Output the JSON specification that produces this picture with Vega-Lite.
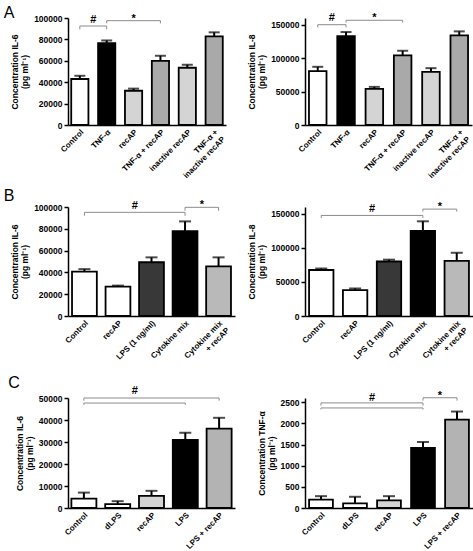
{
  "$schema": "https://vega.github.io/schema/vega-lite/v6.json",
  "padding": {"left": 3, "top": 5, "right": 0, "bottom": 0},
  "background": "white",
  "datasets": {
    "bars": [
      {"panel": "A1", "condition": "Control", "class": "control", "mean": 43000, "upper": 46000},
      {"panel": "A1", "condition": "TNF-α", "class": "stimulus", "mean": 76500, "upper": 79000},
      {"panel": "A1", "condition": "recAP", "class": "recAP", "mean": 32000, "upper": 34000},
      {"panel": "A1", "condition": "TNF-α + recAP", "class": "stimulus + recAP", "mean": 60000, "upper": 64700},
      {"panel": "A1", "condition": "inactive recAP", "class": "inactive recAP", "mean": 53500, "upper": 56300},
      {"panel": "A1", "condition": "TNF-α + inactive recAP", "class": "stimulus + inactive recAP", "mean": 82800, "upper": 86600},
      {"panel": "A2", "condition": "Control", "class": "control", "mean": 80500, "upper": 87000},
      {"panel": "A2", "condition": "TNF-α", "class": "stimulus", "mean": 133000, "upper": 139000},
      {"panel": "A2", "condition": "recAP", "class": "recAP", "mean": 54000, "upper": 57000},
      {"panel": "A2", "condition": "TNF-α + recAP", "class": "stimulus + recAP", "mean": 104000, "upper": 111000},
      {"panel": "A2", "condition": "inactive recAP", "class": "inactive recAP", "mean": 79500, "upper": 85000},
      {"panel": "A2", "condition": "TNF-α + inactive recAP", "class": "stimulus + inactive recAP", "mean": 134000, "upper": 140000},
      {"panel": "B1", "condition": "Control", "class": "control", "mean": 40800, "upper": 43000},
      {"panel": "B1", "condition": "recAP", "class": "recAP", "mean": 27000, "upper": 27900},
      {"panel": "B1", "condition": "LPS (1 ng/ml)", "class": "LPS", "mean": 49300, "upper": 53800},
      {"panel": "B1", "condition": "Cytokine mix", "class": "stimulus", "mean": 77800, "upper": 86800},
      {"panel": "B1", "condition": "Cytokine mix + recAP", "class": "stimulus + recAP", "mean": 45600, "upper": 53800},
      {"panel": "B2", "condition": "Control", "class": "control", "mean": 67500, "upper": 69700},
      {"panel": "B2", "condition": "recAP", "class": "recAP", "mean": 38100, "upper": 40400},
      {"panel": "B2", "condition": "LPS (1 ng/ml)", "class": "LPS", "mean": 80000, "upper": 82700},
      {"panel": "B2", "condition": "Cytokine mix", "class": "stimulus", "mean": 125000, "upper": 139000},
      {"panel": "B2", "condition": "Cytokine mix + recAP", "class": "stimulus + recAP", "mean": 81000, "upper": 92800},
      {"panel": "C1", "condition": "Control", "class": "control", "mean": 4300, "upper": 7000},
      {"panel": "C1", "condition": "dLPS", "class": "dLPS", "mean": 1800, "upper": 3100},
      {"panel": "C1", "condition": "recAP", "class": "recAP", "mean": 5500, "upper": 7800},
      {"panel": "C1", "condition": "LPS", "class": "stimulus", "mean": 30900, "upper": 34200},
      {"panel": "C1", "condition": "LPS + recAP", "class": "stimulus + recAP", "mean": 36100, "upper": 41000},
      {"panel": "C2", "condition": "Control", "class": "control", "mean": 200, "upper": 280},
      {"panel": "C2", "condition": "dLPS", "class": "dLPS", "mean": 110, "upper": 265},
      {"panel": "C2", "condition": "recAP", "class": "recAP", "mean": 180, "upper": 280},
      {"panel": "C2", "condition": "LPS", "class": "stimulus", "mean": 1420, "upper": 1560},
      {"panel": "C2", "condition": "LPS + recAP", "class": "stimulus + recAP", "mean": 2090, "upper": 2280}
    ],
    "brackets": [
      {"panel": "A1", "condition": "Control", "to": "TNF-α", "level": 92500, "tip": 89400},
      {"panel": "A1", "condition": "TNF-α", "to": "TNF-α + recAP", "level": 97500, "tip": 95000},
      {"panel": "A2", "condition": "Control", "to": "TNF-α", "level": 150000, "tip": 146000},
      {"panel": "A2", "condition": "TNF-α", "to": "TNF-α + recAP", "level": 156600, "tip": 153200},
      {"panel": "B1", "condition": "Control", "to": "Cytokine mix", "level": 95100, "tip": 92000},
      {"panel": "B1", "condition": "Cytokine mix", "to": "Cytokine mix + recAP", "level": 99700, "tip": 96600},
      {"panel": "B2", "condition": "Control", "to": "Cytokine mix", "level": 147600, "tip": 144000},
      {"panel": "B2", "condition": "Cytokine mix", "to": "Cytokine mix + recAP", "level": 156900, "tip": 153200},
      {"panel": "C1", "condition": "Control", "to": "LPS + recAP", "level": 50000, "tip": 48800},
      {"panel": "C1", "condition": "Control", "to": "LPS", "level": 47700, "tip": 46900},
      {"panel": "C2", "condition": "Control", "to": "LPS", "level": 2484, "tip": 2420},
      {"panel": "C2", "condition": "Control", "to": "LPS", "level": 2365, "tip": 2329},
      {"panel": "C2", "condition": "LPS", "to": "LPS + recAP", "level": 2606, "tip": 2539}
    ],
    "signif": [
      {"panel": "A1", "condition": "Control", "between": true, "symbol": "#", "label_y": 95000},
      {"panel": "A1", "condition": "recAP", "between": false, "symbol": "*", "label_y": 96300},
      {"panel": "A2", "condition": "Control", "between": true, "symbol": "#", "label_y": 155600},
      {"panel": "A2", "condition": "recAP", "between": false, "symbol": "*", "label_y": 155000},
      {"panel": "B1", "condition": "recAP", "between": true, "symbol": "#", "label_y": 98200},
      {"panel": "B1", "condition": "Cytokine mix", "between": true, "symbol": "*", "label_y": 99400},
      {"panel": "B2", "condition": "recAP", "between": true, "symbol": "#", "label_y": 152400},
      {"panel": "B2", "condition": "Cytokine mix", "between": true, "symbol": "*", "label_y": 155000},
      {"panel": "C1", "condition": "dLPS", "between": true, "symbol": "#", "label_y": 51800},
      {"panel": "C2", "condition": "dLPS", "between": true, "symbol": "#", "label_y": 2522},
      {"panel": "C2", "condition": "LPS", "between": true, "symbol": "*", "label_y": 2567}
    ]
  },
  "columns": 2,
  "bounds": "flush",
  "spacing": {"row": 82, "column": 70},
  "resolve": {"scale": {"color": "independent"}},
  "concat": [
    {
      "title": {"text": "A", "offset": -8.5, "dx": -7},
      "width": 158, "height": 107,
      "encoding": {"x": {"field": "condition", "type": "nominal", "scale": {"domain": ["Control", "TNF-α", "recAP", "TNF-α + recAP", "inactive recAP", "TNF-α + inactive recAP"], "paddingInner": 0.36, "paddingOuter": 0.12}, "axis": {"title": null, "labelExpr": "datum.label == 'TNF-α + inactive recAP' ? ['TNF-α +', 'inactive recAP'] : datum.label"}}},
      "layer": [
        {"data": {"name": "bars"}, "transform": [{"filter": "datum.panel == 'A1'"}], "mark": {"type": "bar", "stroke": "black", "strokeWidth": 1.8},
         "encoding": {"y": {"field": "mean", "type": "quantitative", "scale": {"domain": [0, 100000]}, "axis": {"tickCount": 5, "format": "d", "labelOverlap": false, "title": ["Concentration IL-6", "(pg ml⁻¹)"]}},
                      "color": {"field": "class", "type": "nominal", "scale": {"domain": ["control", "stimulus", "recAP", "stimulus + recAP", "inactive recAP", "stimulus + inactive recAP"], "range": ["#ffffff", "#000000", "#d4d4d4", "#a9a9a9", "#d4d4d4", "#a9a9a9"]}, "legend": null}}},
        {"data": {"name": "bars"}, "transform": [{"filter": "datum.panel == 'A1'"}], "mark": {"type": "rule", "color": "black", "strokeWidth": 2}, "encoding": {"y": {"field": "mean", "type": "quantitative"}, "y2": {"field": "upper"}}},
        {"data": {"name": "bars"}, "transform": [{"filter": "datum.panel == 'A1'"}], "mark": {"type": "tick", "orient": "horizontal", "size": 11, "thickness": 2, "color": "black"}, "encoding": {"y": {"field": "upper", "type": "quantitative"}}},
        {"data": {"name": "brackets"}, "transform": [{"filter": "datum.panel == 'A1'"}], "mark": {"type": "rule", "color": "#8c8c8c", "strokeWidth": 1}, "encoding": {"x2": {"field": "to"}, "y": {"field": "level", "type": "quantitative"}}},
        {"data": {"name": "brackets"}, "transform": [{"filter": "datum.panel == 'A1'"}, {"fold": ["condition", "to"], "as": ["end", "condition"]}], "mark": {"type": "rule", "color": "#8c8c8c", "strokeWidth": 1}, "encoding": {"y": {"field": "level", "type": "quantitative"}, "y2": {"field": "tip"}}},
        {"data": {"name": "signif"}, "transform": [{"filter": "datum.panel == 'A1' && !datum.between"}], "mark": {"type": "text", "fontWeight": "bold", "fontSize": 11, "baseline": "alphabetic"}, "encoding": {"y": {"field": "label_y", "type": "quantitative"}, "text": {"field": "symbol"}}},
        {"data": {"name": "signif"}, "transform": [{"filter": "datum.panel == 'A1' && datum.between"}], "mark": {"type": "text", "fontWeight": "bold", "fontSize": 11, "baseline": "alphabetic", "dx": 13.4}, "encoding": {"y": {"field": "label_y", "type": "quantitative"}, "text": {"field": "symbol"}}}
      ]
    },
    {
      "width": 167, "height": 107,
      "encoding": {"x": {"field": "condition", "type": "nominal", "scale": {"domain": ["Control", "TNF-α", "recAP", "TNF-α + recAP", "inactive recAP", "TNF-α + inactive recAP"], "paddingInner": 0.38, "paddingOuter": 0.14}, "axis": {"title": null, "labelExpr": "datum.label == 'TNF-α + inactive recAP' ? ['TNF-α +', 'inactive recAP'] : datum.label"}}},
      "layer": [
        {"data": {"name": "bars"}, "transform": [{"filter": "datum.panel == 'A2'"}], "mark": {"type": "bar", "stroke": "black", "strokeWidth": 1.8},
         "encoding": {"y": {"field": "mean", "type": "quantitative", "scale": {"domain": [0, 150000]}, "axis": {"tickCount": 3, "format": "d", "labelOverlap": false, "title": ["Concentration IL-8", "(pg ml⁻¹)"]}},
                      "color": {"field": "class", "type": "nominal", "scale": {"domain": ["control", "stimulus", "recAP", "stimulus + recAP", "inactive recAP", "stimulus + inactive recAP"], "range": ["#ffffff", "#000000", "#d4d4d4", "#a9a9a9", "#d4d4d4", "#a9a9a9"]}, "legend": null}}},
        {"data": {"name": "bars"}, "transform": [{"filter": "datum.panel == 'A2'"}], "mark": {"type": "rule", "color": "black", "strokeWidth": 2}, "encoding": {"y": {"field": "mean", "type": "quantitative"}, "y2": {"field": "upper"}}},
        {"data": {"name": "bars"}, "transform": [{"filter": "datum.panel == 'A2'"}], "mark": {"type": "tick", "orient": "horizontal", "size": 11, "thickness": 2, "color": "black"}, "encoding": {"y": {"field": "upper", "type": "quantitative"}}},
        {"data": {"name": "brackets"}, "transform": [{"filter": "datum.panel == 'A2'"}], "mark": {"type": "rule", "color": "#8c8c8c", "strokeWidth": 1}, "encoding": {"x2": {"field": "to"}, "y": {"field": "level", "type": "quantitative"}}},
        {"data": {"name": "brackets"}, "transform": [{"filter": "datum.panel == 'A2'"}, {"fold": ["condition", "to"], "as": ["end", "condition"]}], "mark": {"type": "rule", "color": "#8c8c8c", "strokeWidth": 1}, "encoding": {"y": {"field": "level", "type": "quantitative"}, "y2": {"field": "tip"}}},
        {"data": {"name": "signif"}, "transform": [{"filter": "datum.panel == 'A2' && !datum.between"}], "mark": {"type": "text", "fontWeight": "bold", "fontSize": 11, "baseline": "alphabetic"}, "encoding": {"y": {"field": "label_y", "type": "quantitative"}, "text": {"field": "symbol"}}},
        {"data": {"name": "signif"}, "transform": [{"filter": "datum.panel == 'A2' && datum.between"}], "mark": {"type": "text", "fontWeight": "bold", "fontSize": 11, "baseline": "alphabetic", "dx": 14.2}, "encoding": {"y": {"field": "label_y", "type": "quantitative"}, "text": {"field": "symbol"}}}
      ]
    },
    {
      "title": {"text": "B", "offset": -5.5, "dx": -7},
      "width": 167, "height": 109,
      "encoding": {"x": {"field": "condition", "type": "nominal", "scale": {"domain": ["Control", "recAP", "LPS (1 ng/ml)", "Cytokine mix", "Cytokine mix + recAP"], "paddingInner": 0.26, "paddingOuter": 0.12}, "axis": {"title": null, "labelExpr": "datum.label == 'Cytokine mix + recAP' ? ['Cytokine mix', '+ recAP'] : datum.label"}}},
      "layer": [
        {"data": {"name": "bars"}, "transform": [{"filter": "datum.panel == 'B1'"}], "mark": {"type": "bar", "stroke": "black", "strokeWidth": 1.8},
         "encoding": {"y": {"field": "mean", "type": "quantitative", "scale": {"domain": [0, 100000]}, "axis": {"tickCount": 5, "format": "d", "labelOverlap": false, "title": ["Concentration IL-6", "(pg ml⁻¹)"]}},
                      "color": {"field": "class", "type": "nominal", "scale": {"domain": ["control", "recAP", "LPS", "stimulus", "stimulus + recAP"], "range": ["#ffffff", "#ffffff", "#383838", "#000000", "#b9b9b9"]}, "legend": null}}},
        {"data": {"name": "bars"}, "transform": [{"filter": "datum.panel == 'B1'"}], "mark": {"type": "rule", "color": "black", "strokeWidth": 2}, "encoding": {"y": {"field": "mean", "type": "quantitative"}, "y2": {"field": "upper"}}},
        {"data": {"name": "bars"}, "transform": [{"filter": "datum.panel == 'B1'"}], "mark": {"type": "tick", "orient": "horizontal", "size": 12, "thickness": 2, "color": "black"}, "encoding": {"y": {"field": "upper", "type": "quantitative"}}},
        {"data": {"name": "brackets"}, "transform": [{"filter": "datum.panel == 'B1'"}], "mark": {"type": "rule", "color": "#8c8c8c", "strokeWidth": 1}, "encoding": {"x2": {"field": "to"}, "y": {"field": "level", "type": "quantitative"}}},
        {"data": {"name": "brackets"}, "transform": [{"filter": "datum.panel == 'B1'"}, {"fold": ["condition", "to"], "as": ["end", "condition"]}], "mark": {"type": "rule", "color": "#8c8c8c", "strokeWidth": 1}, "encoding": {"y": {"field": "level", "type": "quantitative"}, "y2": {"field": "tip"}}},
        {"data": {"name": "signif"}, "transform": [{"filter": "datum.panel == 'B1' && !datum.between"}], "mark": {"type": "text", "fontWeight": "bold", "fontSize": 11, "baseline": "alphabetic"}, "encoding": {"y": {"field": "label_y", "type": "quantitative"}, "text": {"field": "symbol"}}},
        {"data": {"name": "signif"}, "transform": [{"filter": "datum.panel == 'B1' && datum.between"}], "mark": {"type": "text", "fontWeight": "bold", "fontSize": 11, "baseline": "alphabetic", "dx": 16.9}, "encoding": {"y": {"field": "label_y", "type": "quantitative"}, "text": {"field": "symbol"}}}
      ]
    },
    {
      "width": 168, "height": 109,
      "encoding": {"x": {"field": "condition", "type": "nominal", "scale": {"domain": ["Control", "recAP", "LPS (1 ng/ml)", "Cytokine mix", "Cytokine mix + recAP"], "paddingInner": 0.28, "paddingOuter": 0.12}, "axis": {"title": null, "labelExpr": "datum.label == 'Cytokine mix + recAP' ? ['Cytokine mix', '+ recAP'] : datum.label"}}},
      "layer": [
        {"data": {"name": "bars"}, "transform": [{"filter": "datum.panel == 'B2'"}], "mark": {"type": "bar", "stroke": "black", "strokeWidth": 1.8},
         "encoding": {"y": {"field": "mean", "type": "quantitative", "scale": {"domain": [0, 150000]}, "axis": {"tickCount": 3, "format": "d", "labelOverlap": false, "title": ["Concentration IL-8", "(pg ml⁻¹)"]}},
                      "color": {"field": "class", "type": "nominal", "scale": {"domain": ["control", "recAP", "LPS", "stimulus", "stimulus + recAP"], "range": ["#ffffff", "#ffffff", "#383838", "#000000", "#b9b9b9"]}, "legend": null}}},
        {"data": {"name": "bars"}, "transform": [{"filter": "datum.panel == 'B2'"}], "mark": {"type": "rule", "color": "black", "strokeWidth": 2}, "encoding": {"y": {"field": "mean", "type": "quantitative"}, "y2": {"field": "upper"}}},
        {"data": {"name": "bars"}, "transform": [{"filter": "datum.panel == 'B2'"}], "mark": {"type": "tick", "orient": "horizontal", "size": 12, "thickness": 2, "color": "black"}, "encoding": {"y": {"field": "upper", "type": "quantitative"}}},
        {"data": {"name": "brackets"}, "transform": [{"filter": "datum.panel == 'B2'"}], "mark": {"type": "rule", "color": "#8c8c8c", "strokeWidth": 1}, "encoding": {"x2": {"field": "to"}, "y": {"field": "level", "type": "quantitative"}}},
        {"data": {"name": "brackets"}, "transform": [{"filter": "datum.panel == 'B2'"}, {"fold": ["condition", "to"], "as": ["end", "condition"]}], "mark": {"type": "rule", "color": "#8c8c8c", "strokeWidth": 1}, "encoding": {"y": {"field": "level", "type": "quantitative"}, "y2": {"field": "tip"}}},
        {"data": {"name": "signif"}, "transform": [{"filter": "datum.panel == 'B2' && !datum.between"}], "mark": {"type": "text", "fontWeight": "bold", "fontSize": 11, "baseline": "alphabetic"}, "encoding": {"y": {"field": "label_y", "type": "quantitative"}, "text": {"field": "symbol"}}},
        {"data": {"name": "signif"}, "transform": [{"filter": "datum.panel == 'B2' && datum.between"}], "mark": {"type": "text", "fontWeight": "bold", "fontSize": 11, "baseline": "alphabetic", "dx": 17}, "encoding": {"y": {"field": "label_y", "type": "quantitative"}, "text": {"field": "symbol"}}}
      ]
    },
    {
      "title": {"text": "C", "offset": -6, "dx": -7},
      "width": 167, "height": 110,
      "encoding": {"x": {"field": "condition", "type": "nominal", "scale": {"domain": ["Control", "dLPS", "recAP", "LPS", "LPS + recAP"], "paddingInner": 0.26, "paddingOuter": 0.1}, "axis": {"title": null}}},
      "layer": [
        {"data": {"name": "bars"}, "transform": [{"filter": "datum.panel == 'C1'"}], "mark": {"type": "bar", "stroke": "black", "strokeWidth": 1.8},
         "encoding": {"y": {"field": "mean", "type": "quantitative", "scale": {"domain": [0, 50000]}, "axis": {"tickCount": 5, "format": "d", "labelOverlap": false, "title": ["Concentration IL-6", "(pg ml⁻¹)"]}},
                      "color": {"field": "class", "type": "nominal", "scale": {"domain": ["control", "dLPS", "recAP", "stimulus", "stimulus + recAP"], "range": ["#ffffff", "#ffffff", "#d4d4d4", "#000000", "#b3b3b3"]}, "legend": null}}},
        {"data": {"name": "bars"}, "transform": [{"filter": "datum.panel == 'C1'"}], "mark": {"type": "rule", "color": "black", "strokeWidth": 2}, "encoding": {"y": {"field": "mean", "type": "quantitative"}, "y2": {"field": "upper"}}},
        {"data": {"name": "bars"}, "transform": [{"filter": "datum.panel == 'C1'"}], "mark": {"type": "tick", "orient": "horizontal", "size": 12, "thickness": 2, "color": "black"}, "encoding": {"y": {"field": "upper", "type": "quantitative"}}},
        {"data": {"name": "brackets"}, "transform": [{"filter": "datum.panel == 'C1'"}], "mark": {"type": "rule", "color": "#8c8c8c", "strokeWidth": 1}, "encoding": {"x2": {"field": "to"}, "y": {"field": "level", "type": "quantitative"}}},
        {"data": {"name": "brackets"}, "transform": [{"filter": "datum.panel == 'C1'"}, {"fold": ["condition", "to"], "as": ["end", "condition"]}], "mark": {"type": "rule", "color": "#8c8c8c", "strokeWidth": 1}, "encoding": {"y": {"field": "level", "type": "quantitative"}, "y2": {"field": "tip"}}},
        {"data": {"name": "signif"}, "transform": [{"filter": "datum.panel == 'C1' && !datum.between"}], "mark": {"type": "text", "fontWeight": "bold", "fontSize": 11, "baseline": "alphabetic"}, "encoding": {"y": {"field": "label_y", "type": "quantitative"}, "text": {"field": "symbol"}}},
        {"data": {"name": "signif"}, "transform": [{"filter": "datum.panel == 'C1' && datum.between"}], "mark": {"type": "text", "fontWeight": "bold", "fontSize": 11, "baseline": "alphabetic", "dx": 17}, "encoding": {"y": {"field": "label_y", "type": "quantitative"}, "text": {"field": "symbol"}}}
      ]
    },
    {
      "width": 168, "height": 110,
      "encoding": {"x": {"field": "condition", "type": "nominal", "scale": {"domain": ["Control", "dLPS", "recAP", "LPS", "LPS + recAP"], "paddingInner": 0.3, "paddingOuter": 0.12}, "axis": {"title": null}}},
      "layer": [
        {"data": {"name": "bars"}, "transform": [{"filter": "datum.panel == 'C2'"}], "mark": {"type": "bar", "stroke": "black", "strokeWidth": 1.8},
         "encoding": {"y": {"field": "mean", "type": "quantitative", "scale": {"domain": [0, 2500]}, "axis": {"tickCount": 5, "format": "d", "labelOverlap": false, "title": ["Concentration TNF-α", "(pg ml⁻¹)"]}},
                      "color": {"field": "class", "type": "nominal", "scale": {"domain": ["control", "dLPS", "recAP", "stimulus", "stimulus + recAP"], "range": ["#ffffff", "#ffffff", "#d4d4d4", "#000000", "#b3b3b3"]}, "legend": null}}},
        {"data": {"name": "bars"}, "transform": [{"filter": "datum.panel == 'C2'"}], "mark": {"type": "rule", "color": "black", "strokeWidth": 2}, "encoding": {"y": {"field": "mean", "type": "quantitative"}, "y2": {"field": "upper"}}},
        {"data": {"name": "bars"}, "transform": [{"filter": "datum.panel == 'C2'"}], "mark": {"type": "tick", "orient": "horizontal", "size": 12, "thickness": 2, "color": "black"}, "encoding": {"y": {"field": "upper", "type": "quantitative"}}},
        {"data": {"name": "brackets"}, "transform": [{"filter": "datum.panel == 'C2'"}], "mark": {"type": "rule", "color": "#8c8c8c", "strokeWidth": 1}, "encoding": {"x2": {"field": "to"}, "y": {"field": "level", "type": "quantitative"}}},
        {"data": {"name": "brackets"}, "transform": [{"filter": "datum.panel == 'C2'"}, {"fold": ["condition", "to"], "as": ["end", "condition"]}], "mark": {"type": "rule", "color": "#8c8c8c", "strokeWidth": 1}, "encoding": {"y": {"field": "level", "type": "quantitative"}, "y2": {"field": "tip"}}},
        {"data": {"name": "signif"}, "transform": [{"filter": "datum.panel == 'C2' && !datum.between"}], "mark": {"type": "text", "fontWeight": "bold", "fontSize": 11, "baseline": "alphabetic"}, "encoding": {"y": {"field": "label_y", "type": "quantitative"}, "text": {"field": "symbol"}}},
        {"data": {"name": "signif"}, "transform": [{"filter": "datum.panel == 'C2' && datum.between"}], "mark": {"type": "text", "fontWeight": "bold", "fontSize": 11, "baseline": "alphabetic", "dx": 17}, "encoding": {"y": {"field": "label_y", "type": "quantitative"}, "text": {"field": "symbol"}}}
      ]
    }
  ],
  "config": {
    "font": "Liberation Sans",
    "view": {"stroke": null},
    "axis": {"labelFont": "Liberation Sans", "labelFontWeight": "bold", "labelFontSize": 8, "labelColor": "black", "titleFont": "Liberation Sans", "titleFontWeight": "bold", "titleFontSize": 8.5, "titleColor": "black", "titleLineHeight": 10, "domainColor": "black", "domainWidth": 1.5, "tickColor": "black", "tickWidth": 1.5, "grid": false, "labelOverlap": false},
    "axisX": {"ticks": false, "labelAngle": -45, "labelPadding": 3, "labelLineHeight": 10},
    "axisY": {"tickSize": 4, "labelPadding": 2, "titlePadding": 4, "labelFontSize": 8.5, "labelOverlap": false},
    "title": {"font": "Liberation Sans", "fontSize": 16, "fontWeight": "normal", "anchor": "start", "frame": "bounds", "color": "black"}
  }
}
